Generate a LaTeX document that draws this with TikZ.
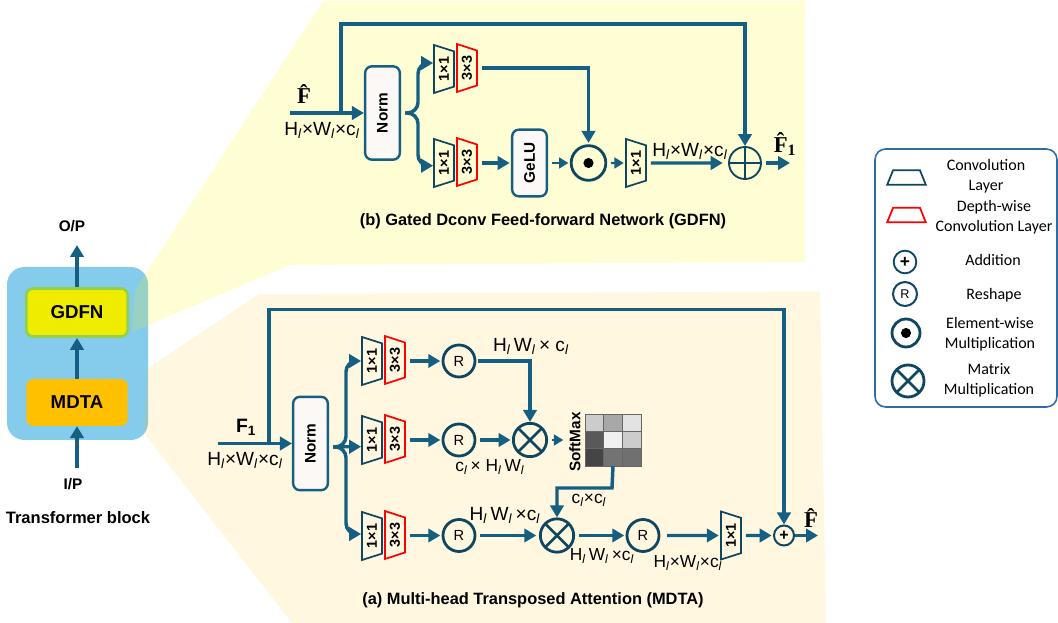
\documentclass[tikz,border=0pt]{standalone}
\usepackage{fontspec}
\setmainfont{Liberation Sans}
\newfontfamily\legendfont{Carlito}
\newfontfamily\hatfont{Liberation Serif}
\usetikzlibrary{arrows.meta,positioning,shapes.geometric}
\definecolor{flowblue}{HTML}{156082}
\definecolor{ringblue}{HTML}{0F4761}
\definecolor{blockblue}{HTML}{85CBEB}
\definecolor{legendblue}{HTML}{2E6DA4}
\definecolor{amber}{HTML}{FFC000}
\definecolor{lemon}{HTML}{F0EC00}
\definecolor{leaf}{HTML}{92D050}
\definecolor{paper}{HTML}{FBF8F6}
\tikzset{
  flow/.style={-{Triangle[length=9pt,width=10pt]}, line width=2.6pt, draw=flowblue},
  thinflow/.style={-{Triangle[length=7pt,width=8pt]}, line width=1.7pt, draw=flowblue},
  gap/.style={shorten <=3pt, shorten >=1pt},
  conv/.style={trapezium, draw=ringblue, line width=1.3pt, rotate=90, shape border rotate=180,
    trapezium stretches=true, trapezium angle=66, minimum width=36pt, minimum height=15pt, inner sep=0pt,
    font=\fontsize{10.8}{11}\selectfont\bfseries},
  dconv/.style={conv, draw=red},
  legconv/.style={trapezium, draw=ringblue, line width=1.3pt, trapezium stretches=true, trapezium angle=60,
    minimum width=29pt, minimum height=11pt, inner sep=0pt},
  legdconv/.style={legconv, draw=red},
  normbox/.style={draw=flowblue, fill=paper, line width=1.8pt, rounded corners=5pt, rotate=90,
    minimum width=70pt, minimum height=26pt, inner sep=0pt, font=\fontsize{11.5}{12}\selectfont\bfseries},
  ring/.style={circle, draw=ringblue, line width=2.1pt, fill=none, inner sep=0pt},
  reshape/.style={ring, minimum size=24pt, font=\fontsize{11}{11}\selectfont},
  otimesring/.style={ring, minimum size=25pt, path picture={
    \draw[ringblue, line width=2.1pt] (path picture bounding box.north west) -- (path picture bounding box.south east);
    \draw[ringblue, line width=2.1pt] (path picture bounding box.north east) -- (path picture bounding box.south west);}},
  oplusring/.style={ring, minimum size=24pt, line width=1.4pt, path picture={
    \draw[ringblue, line width=1.2pt] (path picture bounding box.north) -- (path picture bounding box.south);
    \draw[ringblue, line width=1.2pt] (path picture bounding box.west) -- (path picture bounding box.east);}},
  odotring/.style={ring, minimum size=26pt, path picture={
    \fill[black] (path picture bounding box.center) circle (3.8pt);}},
  addring/.style={ring, minimum size=15pt, line width=1.5pt, font=\bfseries\fontsize{12}{12}\selectfont},
  blocklabel/.style={font=\fontsize{11.5}{13}\selectfont\bfseries},
  titlelabel/.style={font=\fontsize{12.3}{13}\selectfont\bfseries},
  hatlabel/.style={font=\hatfont\bfseries\fontsize{17}{17}\selectfont, inner sep=0pt},
  dims/.style={font=\fontsize{14.3}{15}\selectfont, inner sep=0pt},
  smalldims/.style={font=\fontsize{13}{14}\selectfont, inner sep=0pt},
  legendtext/.style={font=\legendfont\fontsize{12}{15}\selectfont, align=center, inner sep=0pt},
  cell/.style={minimum width=14pt, minimum height=13pt, inner sep=0pt, draw=black!60, line width=.3pt},
}
\newcommand{\Hl}{H\textsubscript{\textit{l}}}
\newcommand{\Wl}{W\textsubscript{\textit{l}}}
\newcommand{\cl}{c\textsubscript{\textit{l}}}

\begin{document}
\begin{tikzpicture}[x=0.75pt,y=-0.75pt]
  \useasboundingbox (0,0) rectangle (1058,623);

  % transformer block
  \fill[blockblue, rounded corners=13pt] (7,267) rectangle (148,440);
  \fill[yellow, opacity=.17] (323,1) -- (805,1) -- (805,262) -- (290,265) -- (132,332) -- (135,290) -- cycle;
  \fill[amber, opacity=.12] (259,294) -- (820,291.5) -- (826,623) -- (292,623) -- (143,432) -- (148,368) -- cycle;
  \node[draw=leaf, fill=lemon, line width=2pt, rounded corners=5pt, minimum width=76pt, minimum height=36pt,
    inner sep=0pt, font=\fontsize{14}{14}\selectfont\bfseries] (gdfn) at (77,312.5) {GDFN};
  \node[fill=amber, rounded corners=5pt, minimum width=76pt, minimum height=35pt,
    inner sep=0pt, font=\fontsize{14}{14}\selectfont\bfseries] (mdta) at (77,402.5) {MDTA};
  \node[blocklabel] (op) at (72,226) {O/P};
  \node[blocklabel] (ip) at (73,484) {I/P};
  \node[font=\fontsize{12.4}{14}\selectfont\bfseries] (tblock) at (78,518) {Transformer block};
  \coordinate (optip) at (77,245);
  \coordinate (ipstart) at (77,468);
  \draw[flow] (gdfn.north) -- (optip);
  \draw[flow] (mdta.north) -- (gdfn.south);
  \draw[flow] (ipstart) -- (mdta.south);

  % GDFN
  \node[normbox] (gnorm) at (382.5,113) {Norm};
  \node[conv] (gconvA) at (444,69) {1×1};
  \node[dconv] (gdconvA) at (467,68) {3×3};
  \node[conv] (gconvB) at (444,163) {1×1};
  \node[dconv] (gdconvB) at (467,162) {3×3};
  \node[normbox, minimum width=50pt] (gelu) at (529.5,163) {GeLU};
  \node[odotring] (gdot) at (588.5,163) {};
  \node[conv] (gconvC) at (636,163) {1×1};
  \node[oplusring] (gplus) at (745,163) {};
  \coordinate (gin) at (290,113);
  \coordinate (gskip) at (341,113);
  \coordinate (gtop) at (341,24);
  \coordinate (gfork) at (418,113);
  \coordinate (gout) at (790,163);
  \node[hatlabel] (gfhat) at (304,94) {F̂};
  \node[dims] (gdimA) at (322,130) {\Hl×\Wl×\cl};
  \node[dims] (gdimB) at (690,151) {\Hl×\Wl×\cl};
  \node[hatlabel] (gfone) at (785,144) {F̂\textsubscript{1}};
  \node[titlelabel] (gtitle) at (543,221) {(b) Gated Dconv Feed-forward Network (GDFN)};

  \draw[flow] (gin) -- (gnorm.north);
  \draw[flow] (gskip) -- (gtop) -| (gplus.north);
  \draw[flow, rounded corners=8pt, shorten <=3pt] (gnorm.south) -- (gfork) |- ([yshift=4.5pt]gconvA.north);
  \draw[flow, rounded corners=8pt, shorten <=3pt] (gnorm.south) -- (gfork) |- ([yshift=-2pt]gconvB.north);
  \draw[flow, gap] (gdconvA.south) -| (gdot.north);
  \draw[flow, gap] (gdconvB.south |- gelu.north) -- (gelu.north);
  \draw[thinflow, gap] (gelu.south) -- (gdot.west);
  \draw[thinflow, gap] (gdot.east) -- (gconvC.north);
  \draw[flow, gap] (gconvC.south) -- ([xshift=-3pt]gplus.west);
  \draw[flow, shorten <=3pt] (gplus.east) -- (gout);

  % MDTA
  \node[normbox] (mnorm) at (310.5,443.5) {Norm};
  \node[conv] (mconvA) at (372,361) {1×1};
  \node[dconv] (mdconvA) at (395,360) {3×3};
  \node[conv] (mconvB) at (372,440) {1×1};
  \node[dconv] (mdconvB) at (395,439) {3×3};
  \node[conv] (mconvC) at (372,536) {1×1};
  \node[dconv] (mdconvC) at (395,535) {3×3};
  \node[reshape] (mrA) at (459,361) {R};
  \node[reshape] (mrB) at (459,440) {R};
  \node[reshape] (mrC) at (459,535.5) {R};
  \node[otimesring] (mmulA) at (530,440) {};
  \node[otimesring] (mmulB) at (557,535.5) {};
  \node[reshape] (mrD) at (643,535.5) {R};
  \node[conv] (mconvD) at (731,535.5) {1×1};
  \node[addring] (mplus) at (784,535.5) {+};
  \foreach \row/\yy/\la/\lb/\lc in {A/422.7/20/34/11, B/440/65/6/20, C/457.3/73/55/56}{
    \node[cell, fill=black!\la] (cell\row1) at (594.3,\yy) {};
    \node[cell, fill=black!\lb] (cell\row2) at (613,\yy) {};
    \node[cell, fill=black!\lc] (cell\row3) at (631.7,\yy) {};
  }
  \node[blocklabel, rotate=90] (msoft) at (575,442) {SoftMax};
  \coordinate (min) at (218,443.5);
  \coordinate (mskip) at (269,443.5);
  \coordinate (mtop) at (269,309.5);
  \coordinate (mfork) at (346,447);
  \coordinate (mdown) at (612,488);
  \coordinate (mout) at (818,535.5);
  \node[font=\fontsize{14.5}{15}\selectfont\bfseries] (mfone) at (246,427) {F\textsubscript{1}};
  \node[dims] (mdimA) at (245,460) {\Hl×\Wl×\cl};
  \node[dims] (mdimB) at (531,346) {\Hl\,\Wl\,× \cl};
  \node[smalldims] (mdimC) at (490,467) {\cl\,× \Hl\,\Wl};
  \node[dims] (mdimD) at (505,515) {\Hl\,\Wl\,×\cl};
  \node[smalldims] (mdimE) at (589,500) {\cl×\cl};
  \node[smalldims] (mdimF) at (602,556) {\Hl\,\Wl\,×\cl};
  \node[smalldims] (mdimG) at (688,563) {\Hl×\Wl×\cl};
  \node[hatlabel] (mfhat) at (811,518) {F̂};
  \node[titlelabel] (mtitle) at (533,600) {(a) Multi-head Transposed Attention (MDTA)};

  \draw[flow] (min) -- (mnorm.north);
  \draw[flow] (mskip) -- (mtop) -| (mplus.north);
  \draw[flow, rounded corners=8pt, shorten <=3pt] ([yshift=-2.5pt]mnorm.south) -- (mfork) |- (mconvA.north);
  \draw[flow, shorten <=3pt] ([yshift=-2.5pt]mnorm.south) -- ([yshift=-5pt]mconvB.north);
  \draw[flow, rounded corners=8pt, shorten <=3pt] ([yshift=-2.5pt]mnorm.south) -- (mfork) |- ([yshift=1.5pt]mconvC.north);
  \draw[flow, gap] (mdconvA.south |- mrA.west) -- (mrA.west);
  \draw[flow, gap] (mdconvB.south |- mrB.west) -- (mrB.west);
  \draw[flow, gap] (mdconvC.south |- mrC.west) -- (mrC.west);
  \draw[flow, shorten <=1pt] (mrA.east) -| (mmulA.north);
  \draw[flow, gap] (mrB.east) -- (mmulA.west);
  \draw[thinflow, gap] (mmulA.east) -- (mmulA.east -| msoft.north);
  \draw[flow, gap, shorten >=2pt] (mrC.east) -- (mmulB.west);
  \draw[flow, shorten <=0pt] (cellC2.south) -- (mdown) -| (mmulB.north);
  \draw[flow, gap] (mmulB.east) -- (mrD.west);
  \draw[flow, gap, shorten <=5pt] (mrD.east) -- (mconvD.north);
  \draw[flow, gap] (mconvD.south) -- (mplus.west);
  \draw[flow] (mplus.east) -- (mout);

  % legend
  \node[draw=legendblue, line width=1.2pt, rounded corners=8pt, minimum width=136.5pt, minimum height=193.5pt,
    inner sep=0pt] (legend) at (966,278) {};
  \node[legconv] (lconv) at (906.5,177.5) {\phantom{.}};
  \node[legdconv] (ldconv) at (906.5,215) {\phantom{.}};
  \node[addring, minimum size=17pt, line width=1.4pt, font=\bfseries\fontsize{13}{13}\selectfont] (ladd) at (905,262) {+};
  \node[reshape, minimum size=18pt, line width=1.5pt, font=\fontsize{9.5}{10}\selectfont] (lres) at (905,294) {R};
  \node[odotring, minimum size=21pt] (ldot) at (906,333) {};
  \node[otimesring, minimum size=24pt] (lmul) at (908,381) {};
  \node[legendtext] (tconv) at (986,176) {Convolution\\Layer};
  \node[legendtext] (tdconv) at (994,217) {Depth-wise\\Convolution Layer};
  \node[legendtext] (tadd) at (993,260) {Addition};
  \node[legendtext] (tres) at (994,295) {Reshape};
  \node[legendtext] (tdot) at (990,334) {Element-wise\\Multiplication};
  \node[legendtext] (tmul) at (989,380) {Matrix\\Multiplication};
\end{tikzpicture}
\end{document}
